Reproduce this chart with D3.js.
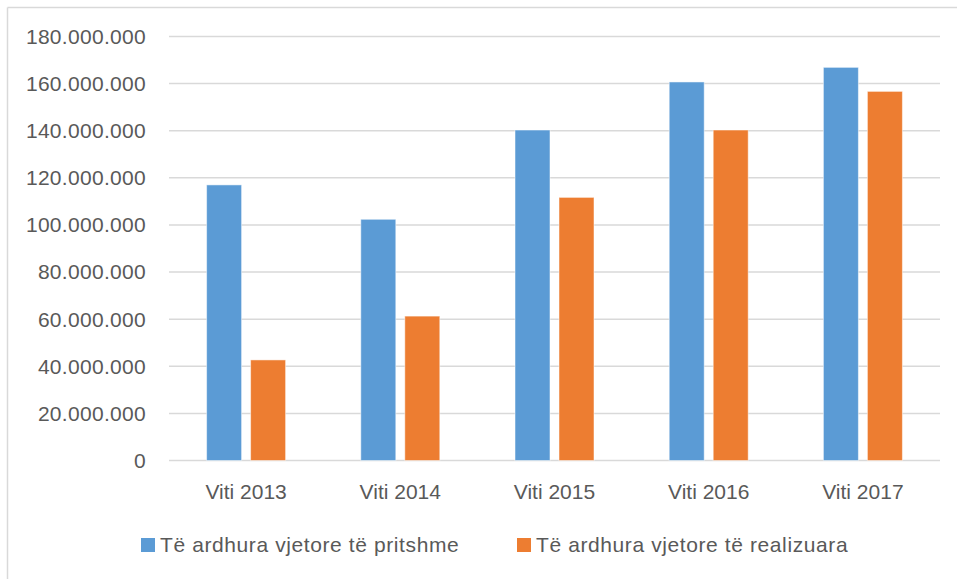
<!DOCTYPE html>
<html>
<head>
<meta charset="utf-8">
<script src="https://cdn.jsdelivr.net/npm/d3@7"></script>
<style>
    body { margin: 0; background: #fff; }
    svg { display: block; }
    text { font-family: "Liberation Sans", Arial, sans-serif; fill: #595959; }
</style>
</head>
<body>
<svg width="957" height="579"></svg>
<script>
// chart data
var years = ['Viti 2013', 'Viti 2014', 'Viti 2015', 'Viti 2016', 'Viti 2017'];
var seriesNames = ['Të ardhura vjetore të pritshme', 'Të ardhura vjetore të realizuara'];
var planned = [117000000, 102400000, 140300000, 160700000, 166900000];
var realized = [42700000, 61300000, 111700000, 140300000, 156700000];
var yTicks = [0, 20000000, 40000000, 60000000, 80000000, 100000000, 120000000, 140000000, 160000000, 180000000];
var colors = ['#5b9bd5', '#ed7d31'];

var svg = d3.select('svg');
var W = 957, H = 579;
var plot = {left: 169, right: 940, top: 36.5, bottom: 460.5};

// frame (top + left edges only, like the source)
svg.append('line').attr('x1', 7.5).attr('x2', W).attr('y1', 7.5).attr('y2', 7.5)
    .style('stroke', '#d9d9d9').style('stroke-width', 1.5);
svg.append('line').attr('x1', 7.5).attr('x2', 7.5).attr('y1', 7.5).attr('y2', H)
    .style('stroke', '#d9d9d9').style('stroke-width', 1.5);

var x = d3.scaleBand().domain(years).range([plot.left, plot.right]);
var y = d3.scaleLinear().domain([0, 180000000]).range([plot.bottom, plot.top]);

var fmt = function (v) {
    return d3.format(',')(v).replace(/,/g, '.');
};

// gridlines
svg.append('g')
    .selectAll('line')
    .data(yTicks)
    .enter()
    .append('line')
    .attr('x1', plot.left)
    .attr('x2', plot.right)
    .attr('y1', function (d) { return y(d); })
    .attr('y2', function (d) { return y(d); })
    .style('stroke', '#d9d9d9')
    .style('stroke-width', 1.5);

// y labels
svg.append('g')
    .selectAll('text')
    .data(yTicks)
    .enter()
    .append('text')
    .attr('x', 146)
    .attr('y', function (d) { return y(d); })
    .attr('dy', '0.35em')
    .style('text-anchor', 'end')
    .style('font-size', '21px')
    .style('letter-spacing', '0.3px')
    .text(fmt);

// bars
var barW = 35, gap = 9;
var groups = [planned, realized];
groups.forEach(function (vals, s) {
    svg.append('g')
        .selectAll('rect')
        .data(vals)
        .enter()
        .append('rect')
        .attr('x', function (d, i) {
            var c = x(years[i]) + x.bandwidth() / 2;
            return s === 0 ? c - gap / 2 - barW : c + gap / 2;
        })
        .attr('y', function (d) { return y(d); })
        .attr('width', barW)
        .attr('height', function (d) { return y(0) - y(d); })
        .style('fill', colors[s])
        .style('stroke', '#fff')
        .style('stroke-opacity', 0.5)
        .style('stroke-width', 1);
});

// x labels
svg.append('g')
    .selectAll('text')
    .data(years)
    .enter()
    .append('text')
    .attr('x', function (d) { return x(d) + x.bandwidth() / 2; })
    .attr('y', 492)
    .attr('dy', '0.35em')
    .style('text-anchor', 'middle')
    .style('font-size', '21px')
    .text(function (d) { return d; });

// legend
var legendX = [141, 517];
seriesNames.forEach(function (name, s) {
    var g = svg.append('g').attr('transform', 'translate(' + legendX[s] + ',545)');
    g.append('rect')
        .attr('x', 0).attr('y', -7)
        .attr('width', 14).attr('height', 14)
        .style('fill', colors[s]);
    g.append('text')
        .attr('x', 19)
        .attr('y', 0)
        .attr('dy', '0.35em')
        .style('font-size', '21px')
        .style('letter-spacing', '0.6px')
        .text(name);
});
</script>
</body>
</html>
